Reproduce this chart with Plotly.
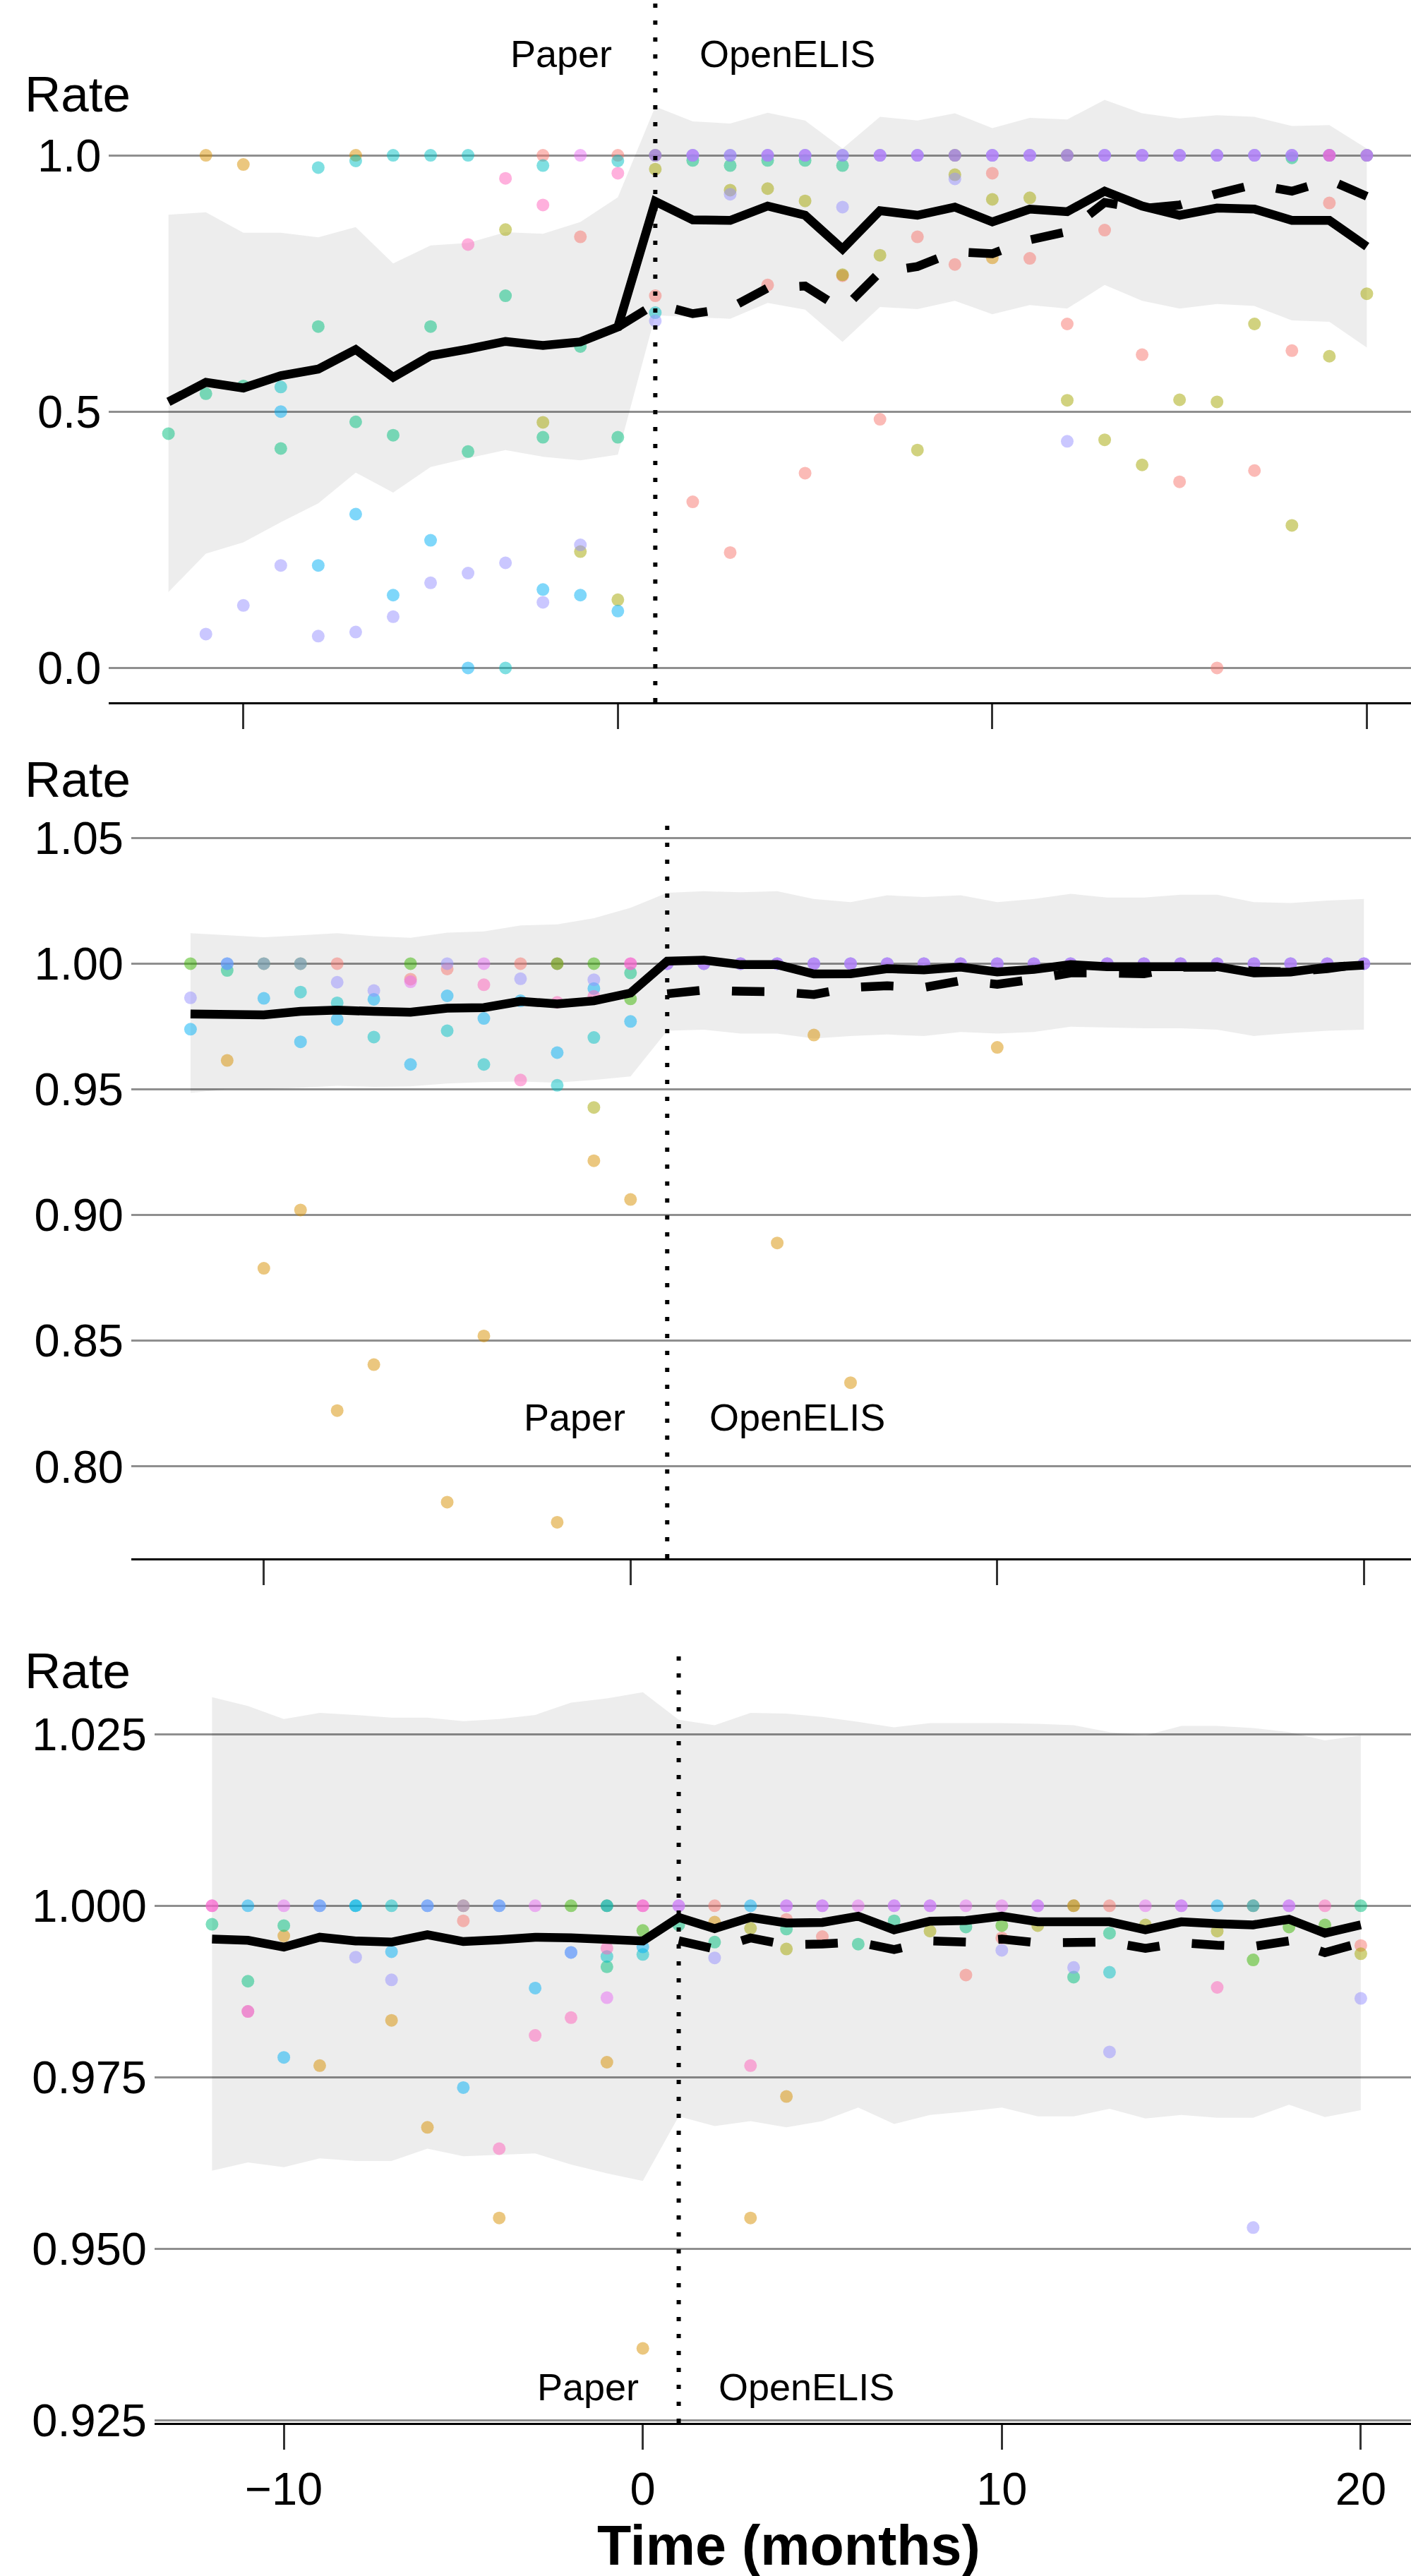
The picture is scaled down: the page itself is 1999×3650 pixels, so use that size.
import plotly.graph_objects as go

# ---------------- data ----------------
MONTHS = list(range(-12, 21))
X_TICKS = [-10, 0, 10, 20]
SWITCH_MONTH = 1

SITE_COLORS = ["#F8766D", "#D89000", "#A3A500", "#39B600", "#00BF7D",
               "#00BFC4", "#00B0F6", "#9590FF", "#E76BF3", "#FF62BC"]

POST = list(range(1, 21))

# ---- panel 1 ----
P1_MEAN = [0.519, 0.557, 0.546, 0.570, 0.583, 0.621, 0.567, 0.609, 0.622, 0.637, 0.629, 0.636, 0.665,
           0.910, 0.874, 0.873, 0.901, 0.883, 0.817, 0.892, 0.883, 0.899, 0.870, 0.895, 0.890, 0.930,
           0.901, 0.883, 0.897, 0.895, 0.873, 0.873, 0.822]
P1_DASH_MONTHS = list(range(0, 21))
P1_DASH = [0.665, 0.710, 0.691, 0.702, 0.741, 0.745, 0.699, 0.772, 0.783, 0.812, 0.808, 0.835, 0.851,
           0.908, 0.896, 0.903, 0.925, 0.943, 0.930, 0.952, 0.920]
P1_UPPER = [0.884, 0.889, 0.849, 0.849, 0.840, 0.860, 0.789, 0.824, 0.829, 0.850, 0.847, 0.870, 0.918,
            1.095, 1.066, 1.062, 1.083, 1.068, 1.013, 1.075, 1.068, 1.082, 1.053, 1.073, 1.070, 1.108,
            1.082, 1.072, 1.078, 1.075, 1.057, 1.059, 1.013]
P1_LOWER = [0.148, 0.223, 0.245, 0.284, 0.321, 0.381, 0.342, 0.392, 0.409, 0.425, 0.412, 0.405, 0.416,
            0.688, 0.684, 0.681, 0.712, 0.699, 0.636, 0.704, 0.700, 0.716, 0.690, 0.708, 0.701, 0.747,
            0.716, 0.701, 0.710, 0.706, 0.678, 0.675, 0.625]
P1_SITE_A = [(-2, 1.0), (-1, 0.841), (0, 1.0), (1, 0.726), (2, 0.324), (3, 0.225), (4, 0.747), (5, 0.38),
             (6, 0.765), (7, 0.485), (8, 0.841), (9, 0.787), (10, 0.965), (11, 0.799), (12, 0.671),
             (13, 0.854), (14, 0.611), (15, 0.363), (16, 0.0), (17, 0.385), (18, 0.619), (19, 0.907)]
P1_SITE_B = [(-11, 1.0), (-10, 0.982), (-7, 1.0), (1, 1.0), (9, 1.0), (10, 0.80), (12, 1.0), (20, 1.0)]
P1_SITE_C = [(-3, 0.855), (-2, 0.479), (-1, 0.227), (0, 0.133), (1, 0.973), (3, 0.932), (4, 0.935),
             (5, 0.911), (6, 0.767), (7, 0.805), (8, 0.425), (9, 0.962), (10, 0.914), (11, 0.917),
             (12, 0.522), (13, 0.445), (14, 0.396), (15, 0.523), (16, 0.519), (17, 0.671), (18, 0.278),
             (19, 0.608), (20, 0.73)]
P1_SITE_D = []
P1_SITE_E = [(-12, 0.457), (-11, 0.535), (-10, 0.55), (-9, 0.428), (-8, 0.666), (-7, 0.48), (-6, 0.454),
             (-5, 0.666), (-4, 0.422), (-3, 0.726), (-2, 0.45), (-1, 0.627), (0, 0.45), (2, 0.99),
             (3, 0.98), (4, 0.99), (5, 0.99), (6, 0.98), (18, 0.995)]
P1_SITE_F = [(-9, 0.548), (-8, 0.976), (-7, 0.989), (-6, 1.0), (-5, 1.0), (-4, 1.0), (-3, 0.0),
             (-2, 0.98), (0, 0.989), (1, 0.693)]
P1_SITE_G = [(-9, 0.5), (-8, 0.2), (-7, 0.30), (-6, 0.142), (-5, 0.249), (-4, 0.0), (-2, 0.153),
             (-1, 0.142), (0, 0.111)] + [(m, 1.0) for m in POST]
P1_SITE_H = [(-11, 0.066), (-10, 0.122), (-9, 0.2), (-8, 0.062), (-7, 0.07), (-6, 0.10), (-5, 0.166),
             (-4, 0.185), (-3, 0.205), (-2, 0.128), (-1, 0.24), (1, 0.677), (2, 1.0), (3, 0.924),
             (4, 1.0), (5, 1.0), (6, 0.899), (7, 1.0), (8, 1.0), (9, 0.954), (10, 1.0), (11, 1.0),
             (12, 0.442), (13, 1.0), (14, 1.0), (15, 1.0), (16, 1.0), (17, 1.0), (18, 1.0), (19, 1.0),
             (20, 1.0)]
P1_SITE_I = [(-1, 1.0)] + [(m, 1.0) for m in POST]
P1_SITE_J = [(-4, 0.826), (-3, 0.955), (-2, 0.903), (0, 0.965), (19, 1.0)]

# ---- panel 2 ----
P2_MEAN = [0.9800, 0.9800, 0.9796, 0.9810, 0.9815, 0.9810, 0.9807, 0.9823, 0.9825, 0.9850, 0.9840,
           0.9852, 0.9883, 1.0010, 1.0014, 0.9996, 0.9996, 0.9959, 0.9960, 0.9980, 0.9975, 0.9986,
           0.9967, 0.9977, 0.9996, 0.9988, 0.9986, 0.9992, 0.9988, 0.9963, 0.9967, 0.9986, 0.9994]
P2_DASH_MONTHS = list(range(1, 21))
P2_DASH = [0.9880, 0.9895, 0.9890, 0.9888, 0.9877, 0.9905, 0.9912, 0.9905, 0.9932, 0.9918, 0.9938,
           0.9963, 0.9963, 0.9960, 0.9986, 0.9986, 0.9970, 0.9967, 0.9980, 1.0000]
P2_UPPER = [1.0121, 1.0113, 1.0105, 1.0113, 1.0121, 1.0109, 1.0103, 1.0123, 1.0128, 1.0152, 1.0156,
            1.0181, 1.0222, 1.0282, 1.0288, 1.0284, 1.0288, 1.0257, 1.0245, 1.0272, 1.0265, 1.0272,
            1.0245, 1.0257, 1.0278, 1.0263, 1.0263, 1.0274, 1.0274, 1.0245, 1.0241, 1.0251, 1.0257]
P2_LOWER = [0.9486, 0.9500, 0.9500, 0.9506, 0.9514, 0.9510, 0.9512, 0.9523, 0.9529, 0.9531, 0.9527,
            0.9537, 0.9551, 0.9733, 0.9737, 0.9722, 0.9722, 0.9702, 0.9712, 0.9718, 0.9712, 0.9728,
            0.9722, 0.9728, 0.9749, 0.9747, 0.9743, 0.9743, 0.9737, 0.9712, 0.9724, 0.9733, 0.9737]
P2_SITE_A = [(-8, 1.0), (-6, 0.9938), (-5, 0.9979), (-3, 1.0), (-2, 1.0)]
P2_SITE_B = [(-11, 0.9615), (-10, 0.8788), (-9, 0.902), (-8, 0.8222), (-7, 0.8405), (-5, 0.7858),
             (-4, 0.8519), (-2, 0.7778), (-1, 0.9216), (0, 0.9062), (4, 0.8889), (5, 0.9716),
             (6, 0.8333), (10, 0.9667)]
P2_SITE_C = [(-1, 0.9428)]
P2_SITE_D = [(-12, 1.0), (-10, 1.0), (-9, 1.0), (-6, 1.0), (-2, 1.0), (-1, 1.0), (0, 0.986)]
P2_SITE_E = [(-11, 0.9973), (0, 0.9963)]
P2_SITE_F = [(-9, 0.9887), (-8, 0.9844), (-7, 0.9708), (-5, 0.9733), (-4, 0.9599), (-2, 0.9516),
             (-1, 0.9706)]
P2_SITE_G = [(-12, 0.9739), (-11, 1.0), (-10, 0.9862), (-9, 0.9689), (-8, 0.9778), (-7, 0.9858),
             (-6, 0.9599), (-5, 0.9872), (-4, 0.9782), (-3, 0.9852), (-2, 0.9646), (-1, 0.9901),
             (0, 0.977)] + [(m, 1.0) for m in POST]
P2_SITE_H = [(-12, 0.9864), (-11, 1.0), (-10, 1.0), (-9, 1.0), (-8, 0.9926), (-7, 0.9893), (-5, 1.0),
             (-3, 0.994), (-1, 0.9936)] + [(m, 1.0) for m in POST]
P2_SITE_I = [(-6, 0.9928), (-4, 1.0), (0, 1.0)] + [(m, 1.0) for m in POST]
P2_SITE_J = [(-4, 0.9916), (-3, 0.9537), (-2, 0.9846), (-1, 0.987), (0, 1.0)]

# ---- panel 3 ----
P3_MEAN = [0.99514, 0.99496, 0.99397, 0.99541, 0.99487, 0.99470, 0.99577, 0.99478, 0.99505, 0.99541,
           0.99532, 0.99496, 0.99487, 0.99829, 0.99667, 0.99829, 0.99748, 0.99757, 0.99847, 0.99649,
           0.99775, 0.99784, 0.99847, 0.99766, 0.99757, 0.99766, 0.99649, 0.99766, 0.99739, 0.99721,
           0.99802, 0.99600, 0.99721]
P3_DASH_MONTHS = list(range(1, 21))
P3_DASH = [0.99490, 0.99370, 0.99530, 0.99430, 0.99442, 0.99470, 0.99361, 0.99487, 0.99470, 0.99514,
           0.99460, 0.99451, 0.99470, 0.99379, 0.99460, 0.99424, 0.99406, 0.99487, 0.99317, 0.99460]
P3_UPPER = [1.0304, 1.0291, 1.0272, 1.0281, 1.0278, 1.0274, 1.0274, 1.0269, 1.0272, 1.0278, 1.0296,
            1.0302, 1.0311, 1.0271, 1.0263, 1.0281, 1.0280, 1.0275, 1.0268, 1.0260, 1.0266, 1.0266,
            1.0266, 1.0265, 1.0263, 1.0253, 1.0248, 1.0262, 1.0262, 1.0259, 1.0253, 1.0241, 1.0248]
P3_LOWER = [0.9614, 0.9626, 0.9619, 0.9632, 0.9628, 0.9628, 0.9646, 0.9635, 0.9637, 0.9639, 0.9623,
            0.9610, 0.9599, 0.9693, 0.9679, 0.9686, 0.9677, 0.9686, 0.9706, 0.9682, 0.9695, 0.9700,
            0.9706, 0.9693, 0.9693, 0.9704, 0.9690, 0.9695, 0.9691, 0.9691, 0.9710, 0.9692, 0.9702]
P3_SITE_A = [(-11, 0.9846), (-5, 0.9978), (2, 1.0), (4, 0.998), (5, 0.9955), (9, 0.9899), (10, 0.9953),
             (12, 1.0), (13, 1.0), (20, 0.9942)]
P3_SITE_B = [(-10, 0.9956), (-9, 0.9767), (-7, 0.9833), (-6, 0.9677), (-5, 1.0), (-4, 0.9545),
             (-1, 0.9772), (0, 0.9355), (2, 0.9976), (3, 0.9545), (4, 0.9722), (17, 1.0)]
P3_SITE_C = [(3, 0.9967), (4, 0.9937), (8, 0.9963), (11, 0.9971), (12, 1.0), (14, 0.9972),
             (16, 0.9963), (20, 0.993)]
P3_SITE_D = [(-2, 1.0), (-1, 1.0), (0, 0.9964), (10, 0.9971), (17, 0.9921), (18, 0.9969), (19, 0.9972)]
P3_SITE_E = [(-12, 0.9973), (-11, 0.989), (-10, 0.9971), (-1, 0.9911), (1, 0.9972), (2, 0.9947),
             (4, 0.9966), (6, 0.9944), (7, 0.9978), (9, 0.9969), (12, 0.9896), (13, 0.996), (20, 1.0)]
P3_SITE_F = [(-8, 1.0), (-7, 1.0), (-1, 0.9926), (0, 0.9929), (13, 0.9903)]
P3_SITE_G = [(-11, 1.0), (-10, 0.9779), (-9, 1.0), (-8, 1.0), (-7, 0.9933), (-6, 1.0), (-5, 0.9735),
             (-4, 1.0), (-3, 0.988), (-2, 0.9932), (-1, 1.0), (0, 0.994), (3, 1.0), (16, 1.0), (17, 1.0)]
P3_SITE_H = [(-9, 1.0), (-8, 0.9925), (-7, 0.9892), (-6, 1.0), (-5, 1.0), (-4, 1.0), (-2, 0.9932),
             (1, 1.0), (2, 0.9924), (4, 1.0), (5, 1.0), (7, 1.0), (8, 1.0), (10, 0.9935), (11, 1.0),
             (12, 0.991), (13, 0.9787), (15, 1.0), (17, 0.9531), (18, 1.0), (20, 0.9865)]
P3_SITE_I = [(-12, 1.0), (-11, 0.9846), (-10, 1.0), (-3, 1.0), (-1, 0.9866), (0, 1.0), (1, 1.0),
             (4, 1.0), (5, 1.0), (6, 1.0), (7, 1.0), (8, 1.0), (9, 1.0), (10, 1.0), (11, 1.0),
             (14, 1.0), (15, 1.0), (18, 1.0)]
P3_SITE_J = [(-12, 1.0), (-4, 0.9646), (-3, 0.9811), (-2, 0.9837), (-1, 0.9938), (0, 1.0),
             (3, 0.9767), (16, 0.9881), (19, 1.0)]

Y1_TICKS = [0.0, 0.5, 1.0]
Y1_TEXT = ["0.0", "0.5", "1.0"]
Y2_TICKS = [0.80, 0.85, 0.90, 0.95, 1.00, 1.05]
Y2_TEXT = ["0.80", "0.85", "0.90", "0.95", "1.00", "1.05"]
Y3_TICKS = [0.925, 0.950, 0.975, 1.000, 1.025]
Y3_TEXT = ["0.925", "0.950", "0.975", "1.000", "1.025"]

# ---------------- layout geometry (pixels) ----------------
W, H = 1999, 3650
FONT = "Liberation Sans, Arial, Helvetica, sans-serif"


def px_x(p):
    return p / W


def px_y(p):
    return 1 - p / H


PANELS = [
    dict(x="x", y="y", left=154.3, top=0, bottom=995, xr=[-13.59, 21.18], yr=[-0.0669, 1.3029],
         yt=Y1_TICKS, ytt=Y1_TEXT, labels=False, rate_y=133.5, lab_y=76, paper_r=868.6, open_l=988.5,
         mean=P1_MEAN, dx=P1_DASH_MONTHS, dy=P1_DASH, up=P1_UPPER, lo=P1_LOWER,
         sites=[P1_SITE_A, P1_SITE_B, P1_SITE_C, P1_SITE_D, P1_SITE_E, P1_SITE_F, P1_SITE_G,
                P1_SITE_H, P1_SITE_I, P1_SITE_J]),
    dict(x="x2", y="y2", left=186, top=1165, bottom=2208, xr=[-13.615, 21.284], yr=[0.76345, 1.05626],
         yt=Y2_TICKS, ytt=Y2_TEXT, labels=False, rate_y=1105, lab_y=2008, paper_r=888.4, open_l=1003,
         mean=P2_MEAN, dx=P2_DASH_MONTHS, dy=P2_DASH, up=P2_UPPER, lo=P2_LOWER,
         sites=[P2_SITE_A, P2_SITE_B, P2_SITE_C, P2_SITE_D, P2_SITE_E, P2_SITE_F, P2_SITE_G,
                P2_SITE_H, P2_SITE_I, P2_SITE_J]),
    dict(x="x3", y="y3", left=219, top=2343, bottom=3433, xr=[-13.6, 21.398], yr=[0.92465, 1.03674],
         yt=Y3_TICKS, ytt=Y3_TEXT, labels=True, rate_y=2367.5, lab_y=3382, paper_r=907, open_l=1016,
         mean=P3_MEAN, dx=P3_DASH_MONTHS, dy=P3_DASH, up=P3_UPPER, lo=P3_LOWER,
         sites=[P3_SITE_A, P3_SITE_B, P3_SITE_C, P3_SITE_D, P3_SITE_E, P3_SITE_F, P3_SITE_G,
                P3_SITE_H, P3_SITE_I, P3_SITE_J]),
]

fig = go.Figure()
annotations = []
shapes = []
layout_axes = {}

for k, p in enumerate(PANELS, start=1):
    xa, ya = p["x"], p["y"]
    fig.add_trace(go.Scatter(
        x=MONTHS + MONTHS[::-1], y=p["up"] + p["lo"][::-1], fill="toself",
        fillcolor="rgba(0,0,0,0.072)", line=dict(width=0), mode="lines",
        xaxis=xa, yaxis=ya, hoverinfo="skip", showlegend=False))
    for pts, col in zip(p["sites"], SITE_COLORS):
        if not pts:
            continue
        fig.add_trace(go.Scatter(
            x=[m for m, v in pts], y=[v for m, v in pts], mode="markers",
            marker=dict(color=col, size=18, opacity=0.5, line=dict(width=0)),
            xaxis=xa, yaxis=ya, showlegend=False))
    fig.add_trace(go.Scatter(
        x=MONTHS, y=p["mean"], mode="lines", line=dict(color="black", width=12.5),
        xaxis=xa, yaxis=ya, showlegend=False))
    fig.add_trace(go.Scatter(
        x=p["dx"], y=p["dy"], mode="lines",
        line=dict(color="black", width=12.5, dash="46px,46px"),
        xaxis=xa, yaxis=ya, showlegend=False))

    sfx = "" if k == 1 else str(k)
    layout_axes["xaxis" + sfx] = dict(
        domain=[px_x(p["left"]), 1.0], range=p["xr"], anchor=ya,
        showgrid=False, zeroline=False, showline=True, linecolor="black", linewidth=3,
        ticks="outside", ticklen=35, tickwidth=2.5, tickcolor="#333333",
        tickmode="array", tickvals=X_TICKS, showticklabels=p["labels"],
        tickfont=dict(size=65, color="black", family=FONT))
    layout_axes["yaxis" + sfx] = dict(
        domain=[px_y(p["bottom"]), px_y(p["top"])], range=p["yr"], anchor=xa,
        showgrid=True, gridcolor="#8f8f8f", gridwidth=2.5, zeroline=False, showline=False,
        ticks="", tickmode="array", tickvals=p["yt"], ticktext=p["ytt"],
        tickfont=dict(size=65, color="black", family=FONT), ticklabelstandoff=10)

    shapes.append(dict(type="line", xref=xa, yref=ya + " domain", x0=SWITCH_MONTH, x1=SWITCH_MONTH,
                       y0=0, y1=1, line=dict(color="black", width=6, dash="6px,18px")))

    annotations.append(dict(text="Rate", xref="paper", yref="paper", x=px_x(33), y=px_y(p["rate_y"]),
                            xanchor="left", yanchor="middle", showarrow=False,
                            font=dict(size=71, color="black", family=FONT)))
    annotations.append(dict(text="Paper", xref="paper", yref="paper", x=px_x(p["paper_r"]),
                            y=px_y(p["lab_y"]), xanchor="right", yanchor="middle", showarrow=False,
                            font=dict(size=54, color="black", family=FONT)))
    annotations.append(dict(text="OpenELIS", xref="paper", yref="paper", x=px_x(p["open_l"]),
                            y=px_y(p["lab_y"]), xanchor="left", yanchor="middle", showarrow=False,
                            font=dict(size=54, color="black", family=FONT)))

annotations.append(dict(text="<b>Time (months)</b>", xref="paper", yref="paper", x=px_x(1117),
                        y=px_y(3606), xanchor="center", yanchor="middle", showarrow=False,
                        font=dict(size=79, color="black", family=FONT)))

fig.update_layout(
    template="none", width=W, height=H, margin=dict(l=0, r=0, t=0, b=0, pad=0),
    paper_bgcolor="white", plot_bgcolor="rgba(0,0,0,0)", showlegend=False,
    font=dict(family=FONT, color="black"),
    annotations=annotations, shapes=shapes, **layout_axes)

fig.write_html("out.html", config={"displayModeBar": False},
               post_script="document.body.style.margin='0px';")
